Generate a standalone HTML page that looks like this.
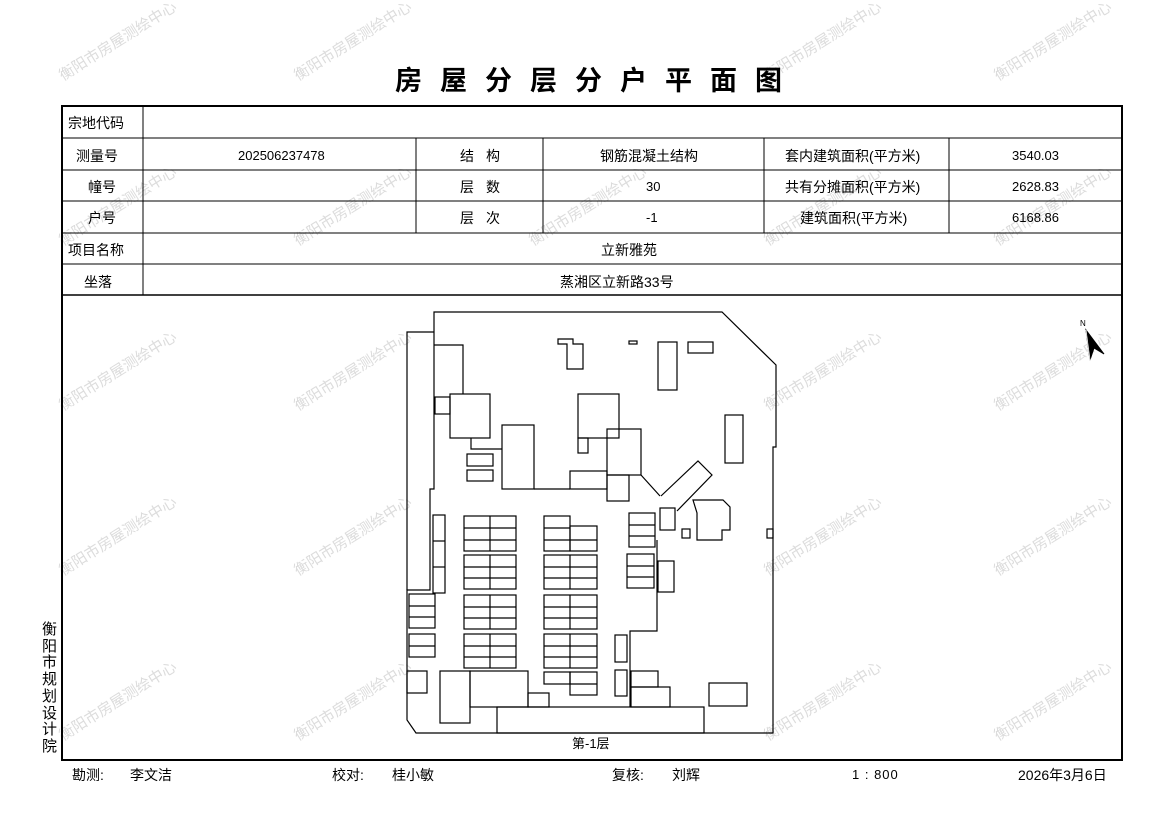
<!DOCTYPE html>
<html><head><meta charset="utf-8"><style>
body{margin:0;background:#fff;width:1169px;height:827px;overflow:hidden;position:relative;font-family:"Liberation Sans","Noto Sans CJK SC",sans-serif;}
.t{position:absolute;font-size:14px;color:#000;white-space:nowrap}
.n{font-size:13px;margin-top:2px}
.wm{position:absolute;font-size:15px;color:#dcdcdc;transform:rotate(-32deg);white-space:nowrap;transform-origin:center}
</style></head><body>
<div class="wm" style="left:50px;top:30px">衡阳市房屋测绘中心</div>
<div class="wm" style="left:285px;top:30px">衡阳市房屋测绘中心</div>
<div class="wm" style="left:755px;top:30px">衡阳市房屋测绘中心</div>
<div class="wm" style="left:985px;top:30px">衡阳市房屋测绘中心</div>
<div class="wm" style="left:50px;top:195px">衡阳市房屋测绘中心</div>
<div class="wm" style="left:285px;top:195px">衡阳市房屋测绘中心</div>
<div class="wm" style="left:520px;top:195px">衡阳市房屋测绘中心</div>
<div class="wm" style="left:755px;top:195px">衡阳市房屋测绘中心</div>
<div class="wm" style="left:985px;top:195px">衡阳市房屋测绘中心</div>
<div class="wm" style="left:50px;top:360px">衡阳市房屋测绘中心</div>
<div class="wm" style="left:285px;top:360px">衡阳市房屋测绘中心</div>
<div class="wm" style="left:755px;top:360px">衡阳市房屋测绘中心</div>
<div class="wm" style="left:985px;top:360px">衡阳市房屋测绘中心</div>
<div class="wm" style="left:50px;top:525px">衡阳市房屋测绘中心</div>
<div class="wm" style="left:285px;top:525px">衡阳市房屋测绘中心</div>
<div class="wm" style="left:755px;top:525px">衡阳市房屋测绘中心</div>
<div class="wm" style="left:985px;top:525px">衡阳市房屋测绘中心</div>
<div class="wm" style="left:50px;top:690px">衡阳市房屋测绘中心</div>
<div class="wm" style="left:285px;top:690px">衡阳市房屋测绘中心</div>
<div class="wm" style="left:755px;top:690px">衡阳市房屋测绘中心</div>
<div class="wm" style="left:985px;top:690px">衡阳市房屋测绘中心</div>

<div class="t" style="left:395px;top:59px;font-size:27px;font-weight:bold;letter-spacing:18px;font-family:'Noto Sans CJK SC',sans-serif">房屋分层分户平面图</div>

<svg width="1169" height="827" style="position:absolute;left:0;top:0" xmlns="http://www.w3.org/2000/svg">
<g stroke="#000" fill="none">
<rect x="62" y="106" width="1060" height="654" stroke-width="2"/>
<g stroke-width="1">
<line x1="62" y1="138" x2="1122" y2="138"/>
<line x1="62" y1="170" x2="1122" y2="170"/>
<line x1="62" y1="201" x2="1122" y2="201"/>
<line x1="62" y1="233" x2="1122" y2="233"/>
<line x1="62" y1="264" x2="1122" y2="264"/>
<line x1="62" y1="295" x2="1122" y2="295" stroke-width="1.5"/>
<line x1="143" y1="106" x2="143" y2="295"/>
<line x1="416" y1="138" x2="416" y2="233"/>
<line x1="543" y1="138" x2="543" y2="233"/>
<line x1="764" y1="138" x2="764" y2="233"/>
<line x1="949" y1="138" x2="949" y2="233"/>
</g>
<g stroke-width="1.2">
<path d="M434 312 L722 312 L776 365 L776 447 L773 447 L773 733 L416 733 L407 720 L407 590 L430 590 L430 489 L434 489 Z"/>
<path d="M434 332 L407 332 L407 590"/>
<path d="M434 345 L463 345 L463 394"/>
<path d="M657 540 L657 631 L630 631 L630 707"/>
<rect x="497" y="707" width="207" height="26"/>
<rect x="450" y="394" width="40" height="44"/>
<rect x="435" y="397" width="15" height="17"/>
<path d="M471 438 L471 449 L502 449"/>
<rect x="502" y="425" width="32" height="64"/>
<path d="M534 489 L570 489"/>
<rect x="578" y="394" width="41" height="44"/>
<rect x="578" y="438" width="10" height="15"/>
<rect x="607" y="429" width="34" height="46"/>
<rect x="570" y="471" width="37" height="18"/>
<rect x="607" y="475" width="22" height="26"/>
<rect x="658" y="342" width="19" height="48"/>
<rect x="688" y="342" width="25" height="11"/>
<rect x="725" y="415" width="18" height="48"/>
<path d="M567 344 L567 369 L583 369 L583 344 L573 344 L573 339 L558 339 L558 344 Z"/>
<rect x="629" y="341" width="8" height="3"/>
<path d="M641 475 L660 496 M661 496 L698 461 L712 475 L677 511"/>
<path d="M693 500 L723 500 L730 507 L730 530 L722 530 L722 540 L697 540 L697 513 Z"/>
<rect x="660" y="508" width="15" height="22"/>
<rect x="682" y="529" width="8" height="9"/>
<rect x="467" y="454" width="26" height="12"/>
<rect x="467" y="470" width="26" height="11"/>
<rect x="407" y="671" width="20" height="22"/>
<rect x="440" y="671" width="30" height="52"/>
<rect x="470" y="671" width="58" height="36"/>
<rect x="528" y="693" width="21" height="14"/>
<rect x="631" y="671" width="27" height="16"/>
<rect x="631" y="687" width="39" height="20"/>
<rect x="709" y="683" width="38" height="23"/>
<rect x="658" y="561" width="16" height="31"/>
<rect x="767" y="529" width="6" height="9"/>
<rect x="615" y="635" width="12" height="27"/>
<rect x="615" y="670" width="12" height="26"/>
<g>
<rect x="464" y="516" width="52" height="35"/><line x1="490" y1="516" x2="490" y2="551"/><line x1="464" y1="528" x2="516" y2="528"/><line x1="464" y1="540" x2="516" y2="540"/>
<rect x="464" y="555" width="52" height="34"/><line x1="490" y1="555" x2="490" y2="589"/><line x1="464" y1="567" x2="516" y2="567"/><line x1="464" y1="578" x2="516" y2="578"/>
<rect x="464" y="595" width="52" height="34"/><line x1="490" y1="595" x2="490" y2="629"/><line x1="464" y1="607" x2="516" y2="607"/><line x1="464" y1="618" x2="516" y2="618"/>
<rect x="464" y="634" width="52" height="34"/><line x1="490" y1="634" x2="490" y2="668"/><line x1="464" y1="646" x2="516" y2="646"/><line x1="464" y1="657" x2="516" y2="657"/>
<rect x="544" y="516" width="26" height="35"/><rect x="570" y="526" width="27" height="25"/><line x1="544" y1="528" x2="570" y2="528"/><line x1="544" y1="540" x2="597" y2="540"/>
<rect x="544" y="555" width="53" height="34"/><line x1="570" y1="555" x2="570" y2="589"/><line x1="544" y1="567" x2="597" y2="567"/><line x1="544" y1="578" x2="597" y2="578"/>
<rect x="544" y="595" width="53" height="34"/><line x1="570" y1="595" x2="570" y2="629"/><line x1="544" y1="607" x2="597" y2="607"/><line x1="544" y1="618" x2="597" y2="618"/>
<rect x="544" y="634" width="53" height="34"/><line x1="570" y1="634" x2="570" y2="668"/><line x1="544" y1="646" x2="597" y2="646"/><line x1="544" y1="657" x2="597" y2="657"/>
<rect x="544" y="672" width="26" height="12"/><rect x="570" y="672" width="27" height="23"/><line x1="570" y1="684" x2="597" y2="684"/>
<rect x="433" y="515" width="12" height="78"/><line x1="433" y1="541" x2="445" y2="541"/><line x1="433" y1="567" x2="445" y2="567"/>
<rect x="409" y="594" width="26" height="34"/><line x1="409" y1="606" x2="435" y2="606"/><line x1="409" y1="617" x2="435" y2="617"/>
<rect x="409" y="634" width="26" height="23"/><line x1="409" y1="646" x2="435" y2="646"/>
<rect x="629" y="513" width="26" height="34"/><line x1="629" y1="525" x2="655" y2="525"/><line x1="629" y1="536" x2="655" y2="536"/>
<rect x="627" y="554" width="27" height="34"/><line x1="627" y1="566" x2="654" y2="566"/><line x1="627" y1="577" x2="654" y2="577"/>
</g>
<path d="M1086 330 L1104 354 L1094 348 L1090 360 Z" fill="#000" stroke-width="1"/>
<path d="M1086 330 L1090 360" stroke="#fff" stroke-width="0.8"/>
</g>
</g>
<text x="1080" y="326" font-size="8" font-family="Liberation Sans">N</text>
</svg>

<div class="t" style="left:68px;top:113px">宗地代码</div>
<div class="t" style="left:76px;top:146px">测量号</div>
<div class="t n" style="left:238px;top:146px">202506237478</div>
<div class="t" style="left:460px;top:146px;letter-spacing:12px">结构</div>
<div class="t" style="left:600px;top:146px">钢筋混凝土结构</div>
<div class="t" style="left:785px;top:146px">套内建筑面积(平方米)</div>
<div class="t n" style="left:1012px;top:146px">3540.03</div>
<div class="t" style="left:88px;top:177px">幢号</div>
<div class="t" style="left:460px;top:177px;letter-spacing:12px">层数</div>
<div class="t n" style="left:646px;top:177px">30</div>
<div class="t" style="left:785px;top:177px">共有分摊面积(平方米)</div>
<div class="t n" style="left:1012px;top:177px">2628.83</div>
<div class="t" style="left:88px;top:208px">户号</div>
<div class="t" style="left:460px;top:208px;letter-spacing:12px">层次</div>
<div class="t n" style="left:646px;top:208px">-1</div>
<div class="t" style="left:800px;top:208px">建筑面积(平方米)</div>
<div class="t n" style="left:1012px;top:208px">6168.86</div>
<div class="t" style="left:68px;top:240px">项目名称</div>
<div class="t" style="left:601px;top:240px">立新雅苑</div>
<div class="t" style="left:84px;top:272px">坐落</div>
<div class="t" style="left:560px;top:272px">蒸湘区立新路33号</div>
<div class="t" style="left:572px;top:733px;font-size:13px">第-1层</div>
<div class="t" style="left:42px;top:622px;width:16px;line-height:16.7px;font-size:15px;white-space:normal">衡阳市规划设计院</div>
<div class="t" style="left:72px;top:765px">勘测:</div>
<div class="t" style="left:130px;top:765px">李文洁</div>
<div class="t" style="left:332px;top:765px">校对:</div>
<div class="t" style="left:392px;top:765px">桂小敏</div>
<div class="t" style="left:612px;top:765px">复核:</div>
<div class="t" style="left:672px;top:765px">刘辉</div>
<div class="t" style="left:852px;top:767px;font-size:13px;letter-spacing:1px">1 : 800</div>
<div class="t" style="left:1018px;top:765px">2026年3月6日</div>
</body></html>
